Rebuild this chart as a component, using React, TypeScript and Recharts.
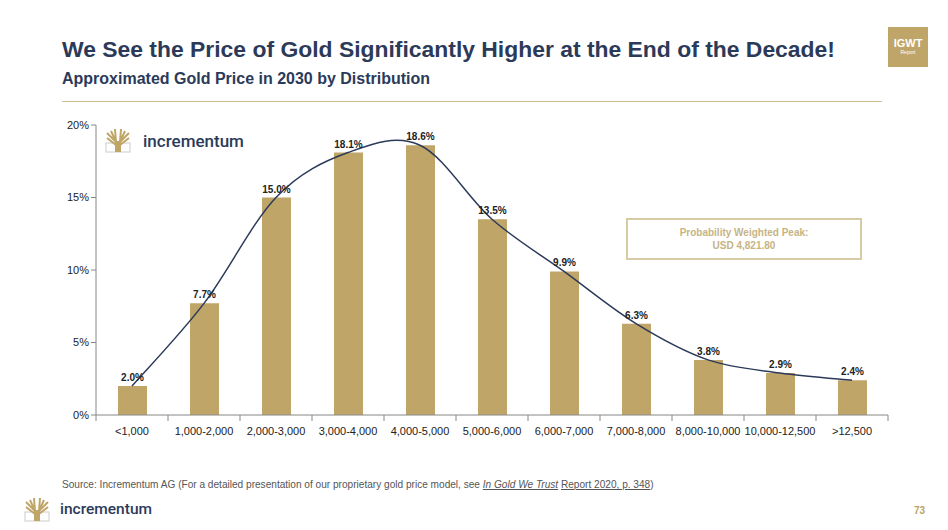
import React from 'react';
import { ComposedChart, Bar, Line, XAxis, YAxis, LabelList } from 'recharts';

const categories = ['<1,000', '1,000-2,000', '2,000-3,000', '3,000-4,000', '4,000-5,000', '5,000-6,000', '6,000-7,000', '7,000-8,000', '8,000-10,000', '10,000-12,500', '>12,500'];
const probability = [2.0, 7.7, 15.0, 18.1, 18.6, 13.5, 9.9, 6.3, 3.8, 2.9, 2.4];
const yTicks = [0, 5, 10, 15, 20];

const data = categories.map((c, i) => ({ name: c, p: probability[i] }));

const GOLD = '#bfa567';
const NAVY = '#2c3a5a';
const FONT = '"Liberation Sans", Arial, sans-serif';

// spreadsheet-style smoothed line (catmull-rom through the points)
function smoothCurve(context: any) {
  let xs: number[] = [];
  let ys: number[] = [];
  return {
    areaStart() {},
    areaEnd() {},
    lineStart() { xs = []; ys = []; },
    point(x: number, y: number) { xs.push(+x); ys.push(+y); },
    lineEnd() {
      const n = xs.length;
      if (!n) return;
      context.moveTo(xs[0], ys[0]);
      for (let i = 0; i < n - 1; i++) {
        const x0 = i > 0 ? xs[i - 1] : xs[i];
        const y0 = i > 0 ? ys[i - 1] : ys[i];
        const x3 = i + 2 < n ? xs[i + 2] : xs[i + 1];
        const y3 = i + 2 < n ? ys[i + 2] : ys[i + 1];
        context.bezierCurveTo(
          xs[i] + (xs[i + 1] - x0) / 6, ys[i] + (ys[i + 1] - y0) / 6,
          xs[i + 1] - (x3 - xs[i]) / 6, ys[i + 1] - (y3 - ys[i]) / 6,
          xs[i + 1], ys[i + 1]
        );
      }
    },
  };
}

function XTick(props: any) {
  const { x, y, payload, index } = props;
  const half = payload && payload.offset ? payload.offset : 36;
  return (
    <g>
      <line x1={x - half} y1={y - 8} x2={x - half} y2={y - 2} stroke="#888" />
      {index === categories.length - 1 && <line x1={x + half} y1={y - 8} x2={x + half} y2={y - 2} stroke="#888" />}
      <text x={x} y={y + 12} textAnchor="middle" fontSize={11} fill="#222" fontFamily={FONT}>{payload.value}</text>
    </g>
  );
}

function TreeLogo({ x, y }: { x: number; y: number }) {
  return (
    <svg style={{ position: 'absolute', left: x, top: y }} width={26} height={26} viewBox="0 0 26 26">
      <rect x={1} y={16} width={24} height={9} fill="none" stroke="#ccc" strokeWidth={1} />
      <path d="M11 25 L11 15 L2 6 M11 15 L6 4 M11 15 L10 2 M15 25 L15 15 L24 6 M15 15 L20 4 M15 15 L16 2 M11 18 L2 11 M15 18 L24 11" stroke={GOLD} strokeWidth={2} fill="none" />
      <rect x={10} y={14} width={6} height={11} fill={GOLD} />
    </svg>
  );
}

export default function App() {
  return (
    <div style={{ position: 'absolute', left: 0, top: 0, width: 948, height: 530, background: '#fff', fontFamily: FONT, overflow: 'hidden' }}>
      <div style={{ position: 'absolute', left: 62, top: 36, fontSize: 22.9, fontWeight: 'bold', color: NAVY, whiteSpace: 'nowrap' }}>
        We See the Price of Gold Significantly Higher at the End of the Decade!
      </div>
      <div style={{ position: 'absolute', left: 62, top: 70, fontSize: 16, fontWeight: 'bold', color: NAVY, whiteSpace: 'nowrap' }}>
        Approximated Gold Price in 2030 by Distribution
      </div>
      <div style={{ position: 'absolute', left: 62, top: 101, width: 820, height: 1, background: '#cbbd8e' }} />
      <div style={{ position: 'absolute', left: 888, top: 27, width: 40, height: 40, background: GOLD, color: '#fff', textAlign: 'center' }}>
        <div style={{ fontSize: 11, fontWeight: 'bold', marginTop: 11, lineHeight: '11px' }}>IGWT</div>
        <div style={{ fontSize: 5, lineHeight: '7px' }}>Report</div>
      </div>

      <ComposedChart width={948} height={530} data={data} margin={{ top: 125, right: 60, bottom: 85, left: 56 }} style={{ position: 'absolute', left: 0, top: 0 }}>
        <XAxis dataKey="name" interval={0} stroke="#888" tickLine={false} tick={<XTick />} height={30} />
        <YAxis domain={[0, 20]} ticks={yTicks} width={40} stroke="#888" tickSize={5} tickFormatter={(v: number) => `${v}%`} tick={{ fontSize: 11, fill: '#222', fontFamily: FONT }} />
        <Bar dataKey="p" fill={GOLD} barSize={29} isAnimationActive={false}>
          <LabelList dataKey="p" position="top" offset={5} formatter={(v: any) => `${Number(v).toFixed(1)}%`} style={{ fontSize: 10, fontWeight: 'bold', fill: '#222', fontFamily: FONT }} />
        </Bar>
        <Line dataKey="p" type={smoothCurve as any} stroke={NAVY} strokeWidth={1.5} dot={false} activeDot={false} isAnimationActive={false} />
      </ComposedChart>

      <TreeLogo x={105} y={127} />
      <div style={{ position: 'absolute', left: 143, top: 131, fontSize: 17, color: NAVY, fontWeight: 500, fontFamily: 'Roboto, sans-serif' }}>incrementum</div>

      <div style={{ position: 'absolute', left: 626, top: 218, width: 232, height: 38, border: '2px solid #d7cba4', color: '#c6b483', fontSize: 10, fontWeight: 'bold', textAlign: 'center', lineHeight: '13px', display: 'flex', flexDirection: 'column', justifyContent: 'center' }}>
        <div>Probability Weighted Peak:</div>
        <div>USD 4,821.80</div>
      </div>

      <div style={{ position: 'absolute', left: 62, top: 479, fontSize: 10.1, color: '#555', whiteSpace: 'nowrap' }}>
        Source: Incrementum AG (For a detailed presentation of our proprietary gold price model, see <i><u>In Gold We Trust</u></i> <u>Report 2020, p. 348</u>)
      </div>
      <TreeLogo x={24} y={496} />
      <div style={{ position: 'absolute', left: 60, top: 500, fontSize: 15.5, color: NAVY, fontWeight: 500, fontFamily: 'Roboto, sans-serif' }}>incrementum</div>
      <div style={{ position: 'absolute', left: 914, top: 505, fontSize: 10, color: '#b9a36a', fontWeight: 'bold' }}>73</div>
    </div>
  );
}
